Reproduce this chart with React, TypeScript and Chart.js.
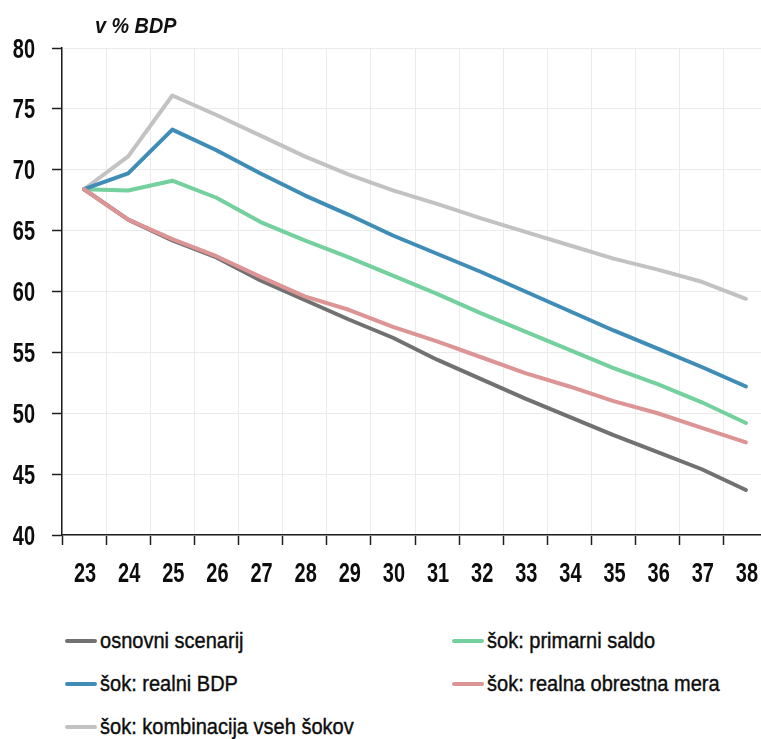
import React, { useEffect, useRef } from "react";
import { Chart, registerables } from "chart.js";

Chart.register(...registerables);

// Years on the horizontal axis (20xx)
const years = ["23", "24", "25", "26", "27", "28", "29", "30", "31", "32", "33", "34", "35", "36", "37", "38"];

// Debt-to-GDP paths, % of GDP
const osnovniScenarij = [68.4, 65.9, 64.2, 62.8, 60.9, 59.3, 57.7, 56.2, 54.4, 52.8, 51.2, 49.7, 48.2, 46.8, 45.4, 43.7];
const sokPrimarniSaldo = [68.4, 68.3, 69.1, 67.7, 65.7, 64.2, 62.8, 61.3, 59.8, 58.2, 56.7, 55.2, 53.7, 52.4, 50.9, 49.2];
const sokRealniBdp = [68.4, 69.7, 73.3, 71.6, 69.7, 67.9, 66.3, 64.6, 63.1, 61.6, 60.0, 58.4, 56.8, 55.3, 53.8, 52.2];
const sokObrestnaMera = [68.4, 65.9, 64.3, 62.9, 61.2, 59.6, 58.5, 57.1, 55.9, 54.6, 53.3, 52.2, 51.0, 50.0, 48.8, 47.6];
const sokKombinacija = [68.4, 71.1, 76.1, 74.5, 72.8, 71.1, 69.6, 68.3, 67.2, 66.0, 64.9, 63.8, 62.7, 61.8, 60.8, 59.4];

const yTicks = [40, 45, 50, 55, 60, 65, 70, 75, 80];

const labels = [
  "osnovni scenarij",
  "šok: primarni saldo",
  "šok: realni BDP",
  "šok: realna obrestna mera",
  "šok: kombinacija vseh šokov",
];
const colors = ["#717171", "#74d09c", "#3f8db6", "#dc9494", "#c2c2c2"];
const values = [osnovniScenarij, sokPrimarniSaldo, sokRealniBdp, sokObrestnaMera, sokKombinacija];
// lower number = drawn on top
const drawOrder = [4, 2, 1, 0, 3];

const FONT = '"Liberation Sans", Arial, sans-serif';

// legend placement: [left of swatch, vertical centre of swatch]
const legendSlots: [number, number][] = [
  [65, 641],
  [452, 641],
  [65, 684],
  [452, 684],
  [65, 727],
];

// Condensed axis labels: drawn at the positions the scales give for each tick,
// squeezed horizontally to get a narrow face from the installed fonts.
const condensedTickLabels = {
  id: "condensedTickLabels",
  afterDraw(chart: any) {
    const ctx: CanvasRenderingContext2D = chart.ctx;
    const xs = chart.scales.x;
    const ys = chart.scales.y;
    const squeeze = 0.74;
    ctx.save();
    ctx.fillStyle = "#0d0d0d";
    ctx.font = `bold 27px ${FONT}`;
    ctx.textBaseline = "alphabetic";
    const put = (text: string, px: number, py: number, align: CanvasTextAlign) => {
      ctx.save();
      ctx.translate(px, py);
      ctx.scale(squeeze, 1);
      ctx.textAlign = align;
      ctx.fillText(text, 0, 0);
      ctx.restore();
    };
    ys.ticks.forEach((t: any) => {
      const py = ys.getPixelForValue(t.value);
      put(String(t.value), ys.right - 27, py + 9.5, "right");
    });
    xs.ticks.forEach((t: any, i: number) => {
      const px = xs.getPixelForTick(i);
      put(String(xs.getLabelForValue(t.value)), px + 1, xs.top + 47, "center");
    });
    ctx.restore();
  },
};

export default function App() {
  const canvasRef = useRef<HTMLCanvasElement>(null);

  useEffect(() => {
    const canvas = canvasRef.current;
    if (!canvas) return;
    const gridColor = "#ebebeb";
    const axisColor = "#1e1e1e";
    const chart = new Chart(canvas, {
      type: "line",
      data: {
        labels: years,
        datasets: values.map((data, i) => ({
          label: labels[i],
          data,
          borderColor: colors[i],
          backgroundColor: colors[i],
          order: drawOrder[i],
        })),
      },
      options: {
        responsive: false,
        animation: false,
        devicePixelRatio: 1,
        layout: { padding: { top: 48, left: 0, right: 0, bottom: 0 } },
        plugins: { legend: { display: false }, tooltip: { enabled: false }, title: { display: false } },
        elements: {
          point: { radius: 0, hoverRadius: 0 },
          line: { borderWidth: 4, tension: 0, borderCapStyle: "round", borderJoinStyle: "round", fill: false },
        },
        scales: {
          x: {
            type: "category",
            offset: true,
            grid: { offset: true, color: gridColor, lineWidth: 1, tickColor: axisColor, tickLength: 10, tickWidth: 1.5 },
            border: { color: axisColor, width: 1.5 },
            ticks: { display: false, autoSkip: false },
            afterFit: (s: any) => {
              s.height = 65;
            },
          },
          y: {
            min: 40,
            max: 80,
            afterBuildTicks: (s: any) => {
              s.ticks = yTicks.map((v) => ({ value: v }));
            },
            grid: { color: gridColor, lineWidth: 1, tickColor: axisColor, tickLength: 10, tickWidth: 1.5 },
            border: { color: axisColor, width: 1.5 },
            ticks: { display: false },
            afterFit: (s: any) => {
              s.width = 62;
            },
          },
        },
      },
      plugins: [condensedTickLabels],
    });
    return () => chart.destroy();
  }, []);

  const legendSize = 22;
  return (
    <div
      style={{
        position: "absolute",
        left: 0,
        top: 0,
        width: 761,
        height: 739,
        overflow: "hidden",
        background: "#fff",
        fontFamily: FONT,
      }}
    >
      <canvas ref={canvasRef} width={768} height={600} style={{ position: "absolute", left: 0, top: 0 }} />
      <div
        style={{
          position: "absolute",
          left: 95,
          top: 14.7,
          fontSize: 22,
          lineHeight: "22px",
          fontStyle: "italic",
          fontWeight: "bold",
          color: "#111",
          whiteSpace: "nowrap",
          transform: "scaleX(0.9)",
          transformOrigin: "left center",
        }}
      >
        v % BDP
      </div>
      {labels.map((text, i) => {
        const [x, y] = legendSlots[i];
        return (
          <React.Fragment key={text}>
            <div
              style={{
                position: "absolute",
                left: x,
                top: y - 2,
                width: 32,
                height: 4,
                borderRadius: 2,
                background: colors[i],
              }}
            />
            <div
              style={{
                position: "absolute",
                left: x + 35,
                top: y + 7.5 - 0.8465 * legendSize,
                fontSize: legendSize,
                lineHeight: `${legendSize}px`,
                color: "#0d0d0d",
                whiteSpace: "nowrap",
                WebkitTextStroke: "0.4px #0d0d0d",
                transform: "scaleX(0.91)",
                transformOrigin: "left center",
              }}
            >
              {text}
            </div>
          </React.Fragment>
        );
      })}
    </div>
  );
}
